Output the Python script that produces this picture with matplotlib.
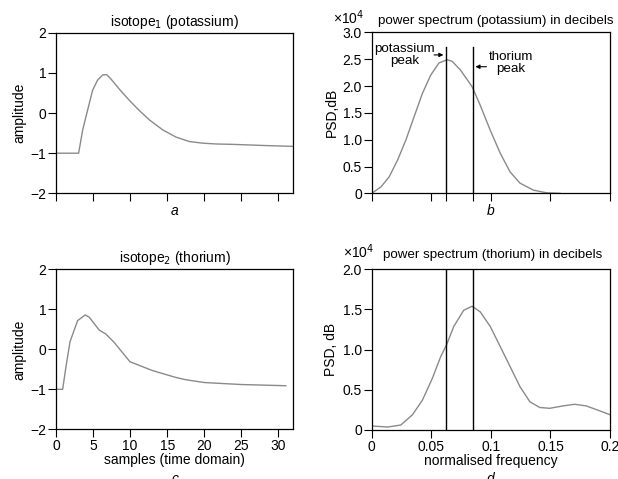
import matplotlib.pyplot as plt
import numpy as np

plt.rcParams['font.family'] = ['Liberation Sans', 'DejaVu Sans']
plt.rcParams['font.size'] = 10

# time-domain pulses
t_k = [0, 3.05, 3.6, 4.27, 4.94, 5.6, 6.29, 6.83, 7.41, 8.53, 9.88, 11.2, 12.6, 14.4, 16.2,
       18.0, 19.8, 21.6, 23.9, 28.4, 32]
amp_k = [-1.0, -1.0, -0.42, 0.08, 0.57, 0.82, 0.95, 0.96, 0.85, 0.60, 0.32, 0.07, -0.17, -0.42, -0.6,
         -0.71, -0.75, -0.77, -0.78, -0.81, -0.83]

t_th = [0, 0.9, 1.35, 1.89, 2.92, 3.95, 4.49, 5.84, 6.74, 7.86, 9.97, 13.0, 16.1, 17.5, 20, 25, 31]
amp_th = [-1.0, -1.0, -0.43, 0.19, 0.72, 0.86, 0.80, 0.48, 0.38, 0.17, -0.31, -0.53, -0.7, -0.76,
          -0.83, -0.88, -0.91]

# power spectra (x1e4 dB)
f_k = [0, 0.0078, 0.0147, 0.0217, 0.0286, 0.0356, 0.0425, 0.0494, 0.0564, 0.0633, 0.0675, 0.0744,
       0.0842, 0.0911, 0.0994, 0.1078, 0.1161, 0.1244, 0.1356, 0.1467, 0.158]
psd_k = [0, 0.12, 0.31, 0.62, 0.99, 1.43, 1.86, 2.2, 2.43, 2.49, 2.46, 2.30,
         1.99, 1.64, 1.18, 0.75, 0.40, 0.19, 0.06, 0.01, 0.0]

f_th = [0, 0.0133, 0.0244, 0.0342, 0.0425, 0.0508, 0.0578, 0.0628, 0.0689, 0.0772, 0.0842, 0.0911,
        0.0994, 0.1078, 0.1161, 0.1244, 0.1328, 0.1411, 0.1494, 0.1606, 0.1703, 0.18, 0.1911, 0.2]
psd_th = [0.05, 0.037, 0.062, 0.19, 0.37, 0.64, 0.91, 1.06, 1.29, 1.49, 1.54, 1.47,
          1.29, 1.04, 0.79, 0.54, 0.35, 0.28, 0.27, 0.30, 0.32, 0.30, 0.24, 0.19]

k_peak = 0.0625
th_peak = 0.0847

grey = '#8a8a8a'
fig = plt.figure(figsize=(6.18, 4.79), dpi=100)
ax1 = fig.add_axes([0.0906, 0.5964, 0.384, 0.335])
ax2 = fig.add_axes([0.6015, 0.5964, 0.3856, 0.336])
ax3 = fig.add_axes([0.0906, 0.1037, 0.384, 0.334])
ax4 = fig.add_axes([0.6015, 0.1023, 0.3856, 0.3355])

for ax in (ax1, ax2, ax3, ax4):
    ax.tick_params(direction='out', length=5.5, width=0.8, pad=1.5)
    for s in ax.spines.values():
        s.set_linewidth(0.9)

# a
ax1.plot(t_k, amp_k, color=grey, lw=1)
ax1.set_xlim(0, 32)
ax1.set_ylim(-2, 2)
ax1.set_xticks(np.arange(0, 31, 5))
ax1.set_xticklabels([])
ax1.set_yticks([-2, -1, 0, 1, 2])
ax1.set_yticklabels(['\u22122', '\u22121', '0', '1', '2'])
ax1.set_ylabel('amplitude', labelpad=3)
ax1.set_title('isotope$_1$ (potassium)', pad=5, fontsize=10)
ax1.set_xlabel('a', style='italic', labelpad=1)

# b
ax2.plot(f_k, psd_k, color=grey, lw=1)
ax2.plot([k_peak, k_peak], [0, 2.72], color='black', lw=1)
ax2.plot([th_peak, th_peak], [0, 2.72], color='black', lw=1)
ax2.set_xlim(0, 0.2)
ax2.set_ylim(0, 3.0)
ax2.set_xticks([0, 0.05, k_peak, th_peak, 0.1, 0.15, 0.2])
ax2.set_xticklabels([])
ax2.set_yticks([0, 0.5, 1.0, 1.5, 2.0, 2.5, 3.0])
ax2.set_yticklabels(['0', '0.5', '1.0', '1.5', '2.0', '2.5', '3.0'])
ax2.set_ylabel('PSD,dB', labelpad=3)
ax2.set_xlabel('b', style='italic', labelpad=1)
ax2.text(-0.162, 1.05, '\u00d710$^4$', transform=ax2.transAxes, ha='left', va='baseline')
ax2.text(0.027, 1.05, 'power spectrum (potassium) in decibels', transform=ax2.transAxes,
         ha='left', va='baseline', fontsize=9.6)
ax2.text(0.0278, 2.58, 'potassium\npeak', ha='center', va='center', linespacing=1.0, fontsize=9.6)
ax2.text(0.1167, 2.43, 'thorium\npeak', ha='center', va='center', linespacing=1.0, fontsize=9.6)
ax2.annotate('', xy=(k_peak, 2.58), xytext=(0.05, 2.58),
             arrowprops=dict(arrowstyle='-|>', color='black', lw=0.8, mutation_scale=6))
ax2.annotate('', xy=(th_peak, 2.36), xytext=(0.0986, 2.36),
             arrowprops=dict(arrowstyle='-|>', color='black', lw=0.8, mutation_scale=6))

# c
ax3.plot(t_th, amp_th, color=grey, lw=1)
ax3.set_xlim(0, 32)
ax3.set_ylim(-2, 2)
ax3.set_xticks(np.arange(0, 31, 5))
ax3.set_yticks([-2, -1, 0, 1, 2])
ax3.set_yticklabels(['\u22122', '\u22121', '0', '1', '2'])
ax3.set_ylabel('amplitude', labelpad=3)
ax3.set_title('isotope$_2$ (thorium)', pad=5, fontsize=10)
ax3.set_xlabel('samples (time domain)', labelpad=0)
fig.text(0.2826, -0.008, 'c', style='italic', ha='center', va='baseline')

# d
ax4.plot(f_th, psd_th, color=grey, lw=1)
ax4.axvline(k_peak, color='black', lw=1)
ax4.axvline(th_peak, color='black', lw=1)
ax4.set_xlim(0, 0.2)
ax4.set_ylim(0, 2.0)
ax4.set_xticks([0, 0.05, 0.1, 0.15, 0.2])
ax4.set_xticklabels(['0', '0.05', '0.1', '0.15', '0.2'])
ax4.set_yticks([0, 0.5, 1.0, 1.5, 2.0])
ax4.set_yticklabels(['0', '0.5', '1.0', '1.5', '2.0'])
ax4.set_ylabel('PSD, dB', labelpad=3)
ax4.set_xlabel('normalised frequency', labelpad=0)
ax4.text(-0.12, 1.068, '\u00d710$^4$', transform=ax4.transAxes, ha='left', va='baseline')
ax4.text(0.047, 1.068, 'power spectrum (thorium) in decibels', transform=ax4.transAxes,
         ha='left', va='baseline', fontsize=9.6)
fig.text(0.794, -0.008, 'd', style='italic', ha='center', va='baseline')

fig.savefig('out.png', dpi=100)
